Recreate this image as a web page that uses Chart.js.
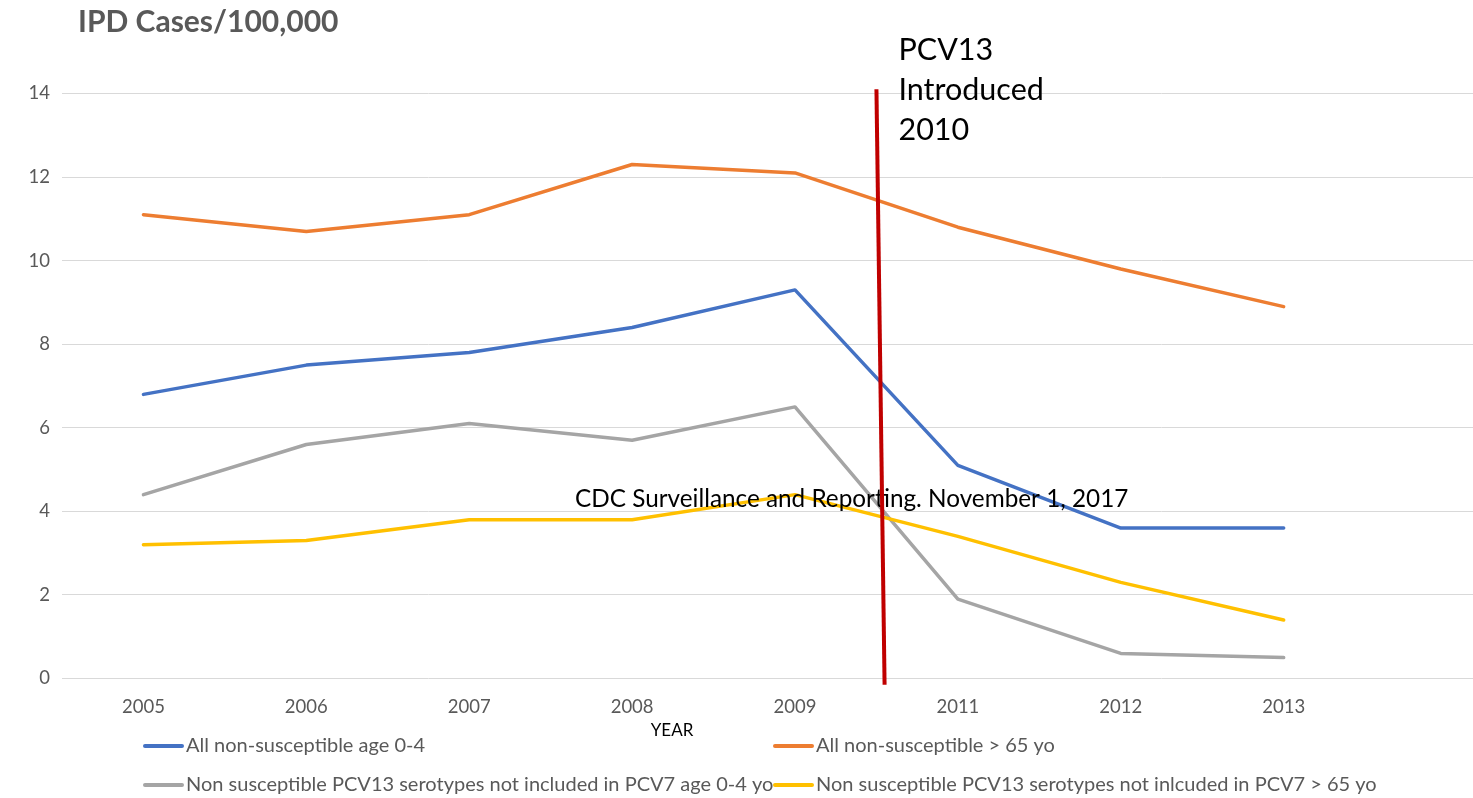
<!DOCTYPE html>
<html>
<head>
<meta charset="utf-8">
<script src="https://cdn.jsdelivr.net/npm/chart.js@4.4.1/dist/chart.umd.min.js"></script>
<style>
  html, body { margin: 0; padding: 0; background: #ffffff; overflow: hidden; }
  #wrap { width: 1473px; height: 798px; overflow: hidden; position: relative; }
  canvas { display: block; }
</style>
</head>
<body>
<div id="wrap"><canvas id="chart" width="1530" height="798"></canvas></div>
<script>
// Surveillance years (2010 has no data point; the vaccine was introduced that year)
const years = ['2005', '2006', '2007', '2008', '2009', '2011', '2012', '2013'];
// One trailing empty slot keeps the plot area running on past 2013
const axisSlots = [...years, ''];

// IPD cases per 100,000
const allNonSusceptibleAge04 = [6.8, 7.5, 7.8, 8.4, 9.3, 5.1, 3.6, 3.6];
const allNonSusceptibleOver65 = [11.1, 10.7, 11.1, 12.3, 12.1, 10.8, 9.8, 8.9];
const pcv13NotPcv7Age04 = [4.4, 5.6, 6.1, 5.7, 6.5, 1.9, 0.6, 0.5];
const pcv13NotPcv7Over65 = [3.2, 3.3, 3.8, 3.8, 4.4, 3.4, 2.3, 1.4];

const seriesNames = [
  'All non-susceptible age 0-4',
  'All non-susceptible > 65 yo',
  'Non susceptible PCV13 serotypes not included in PCV7 age 0-4 yo',
  'Non susceptible PCV13 serotypes not inlcuded in PCV7 > 65 yo'
];
const seriesColors = ['#4472C4', '#ED7D31', '#A5A5A5', '#FFC000'];

// Vertical marker for the PCV13 introduction (slot positions between 2009 and 2011)
const introMarker = { topSlot: 4.5, topValue: 14.1, bottomSlot: 4.55, bottomValue: -0.15 };
const introLabel = ['PCV13', 'Introduced', '2010'];
const sourceNote = 'CDC Surveillance and Reporting. November 1, 2017';
const chartTitle = 'IPD Cases/100,000';
const xAxisTitle = 'YEAR';

const FONT = 'Lato, "Open Sans", sans-serif';
const GREY_TEXT = '#595959';

const overlayPlugin = {
  id: 'overlay',
  afterDatasetsDraw(chart) {
    const { ctx, scales: { x, y } } = chart;
    ctx.save();

    // source note across the plot
    ctx.fillStyle = '#000000';
    ctx.font = '24.3px ' + FONT;
    ctx.textBaseline = 'middle';
    ctx.textAlign = 'left';
    ctx.fillText(sourceNote, x.getPixelForValue(2.65), y.getPixelForValue(4.3));

    // introduction marker
    ctx.strokeStyle = '#C00000';
    ctx.lineWidth = 4;
    ctx.beginPath();
    ctx.moveTo(x.getPixelForValue(introMarker.topSlot), y.getPixelForValue(introMarker.topValue));
    ctx.lineTo(x.getPixelForValue(introMarker.bottomSlot), y.getPixelForValue(introMarker.bottomValue));
    ctx.stroke();

    // marker label
    ctx.fillStyle = '#000000';
    ctx.font = '30.5px ' + FONT;
    ctx.textBaseline = 'alphabetic';
    const lx = x.getPixelForValue(introMarker.topSlot) + 22;
    introLabel.forEach((line, i) => ctx.fillText(line, lx, 60 + i * 40));
    ctx.restore();
  },
  afterDraw(chart) {
    const { ctx } = chart;
    ctx.save();

    // chart title
    ctx.fillStyle = GREY_TEXT;
    ctx.font = 'bold 30px ' + FONT;
    ctx.textBaseline = 'middle';
    ctx.textAlign = 'left';
    ctx.fillText(chartTitle, 78, 22);

    // x-axis title
    ctx.fillStyle = '#000000';
    ctx.font = '17px ' + FONT;
    ctx.textAlign = 'center';
    ctx.fillText(xAxisTitle, 672, 731);

    // legend: two columns, two rows
    const cols = [145, 775];
    const rows = [746, 785];
    ctx.textAlign = 'left';
    ctx.font = '20px ' + FONT;
    chart.data.datasets.forEach((ds, i) => {
      const lx = cols[i % 2];
      const ly = rows[Math.floor(i / 2)];
      ctx.strokeStyle = ds.borderColor;
      ctx.lineWidth = 4;
      ctx.lineCap = 'round';
      ctx.beginPath();
      ctx.moveTo(lx, ly);
      ctx.lineTo(lx + 37, ly);
      ctx.stroke();
      ctx.fillStyle = GREY_TEXT;
      ctx.fillText(ds.label, lx + 41, ly);
    });
    ctx.restore();
  }
};

const seriesValues = [allNonSusceptibleAge04, allNonSusceptibleOver65, pcv13NotPcv7Age04, pcv13NotPcv7Over65];

new Chart(document.getElementById('chart'), {
  type: 'line',
  data: {
    labels: axisSlots,
    datasets: seriesValues.map((vals, i) => ({
      label: seriesNames[i],
      data: vals,
      borderColor: seriesColors[i],
      backgroundColor: seriesColors[i],
      borderWidth: 3.5,
      borderCapStyle: 'round',
      borderJoinStyle: 'round',
      pointRadius: 0,
      tension: 0,
      fill: false,
      order: 4 - i
    }))
  },
  options: {
    responsive: false,
    animation: false,
    events: [],
    layout: { padding: { top: 93.5, left: 0, right: 2, bottom: 0 } },
    plugins: { legend: { display: false }, title: { display: false }, tooltip: { enabled: false } },
    scales: {
      x: {
        offset: true,
        grid: { display: false },
        border: { display: false },
        ticks: { font: { family: FONT, size: 18.5 }, color: GREY_TEXT, padding: 9, maxRotation: 0, autoSkip: false },
        afterFit(s) { s.height = 798 - 678.5; }
      },
      y: {
        min: 0,
        max: 14,
        ticks: { stepSize: 2, font: { family: FONT, size: 18.5 }, color: GREY_TEXT, padding: 12, },
        grid: { color: '#D9D9D9', lineWidth: 1, drawTicks: false },
        border: { display: false },
        afterFit(s) { s.width = 62; }
      }
    }
  },
  plugins: [overlayPlugin]
});
</script>
</body>
</html>
